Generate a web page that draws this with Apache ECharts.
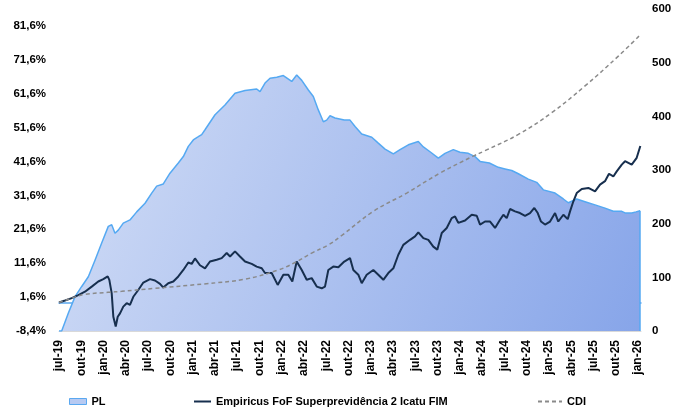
<!DOCTYPE html>
<html>
<head>
<meta charset="utf-8">
<script src="https://cdn.jsdelivr.net/npm/echarts@6/dist/echarts.min.js"></script>
<style>
html,body{margin:0;padding:0;background:#fff;}
#c{width:683px;height:412px;}
</style>
</head>
<body>
<div id="c"></div>
<script>
// x values are months elapsed since jul-2019
const xLabels = ['jul-19','out-19','jan-20','abr-20','jul-20','out-20','jan-21','abr-21','jul-21','out-21','jan-22','abr-22','jul-22','out-22','jan-23','abr-23','jul-23','out-23','jan-24','abr-24','jul-24','out-24','jan-25','abr-25','jul-25','out-25','jan-26'];
const leftTicks = [-8.4, 1.6, 11.6, 21.6, 31.6, 41.6, 51.6, 61.6, 71.6, 81.6];

const plMonths = [0,0.36,1.25,2.16,3.06,3.95,4.85,5.75,6.64,7.10,7.54,7.99,8.66,9.56,10.47,11.59,12.49,13.16,14.05,14.95,16.07,16.75,17.42,18.09,18.77,19.22,19.67,21.02,22.36,23.71,25.06,26.63,27.08,27.75,28.43,29.33,30.22,31.35,32.02,32.70,33.59,34.26,34.93,35.61,36.06,36.51,37.18,38.43,39.20,39.88,40.78,42.13,43.01,43.92,45.04,45.94,47.06,48.40,49.08,49.98,51.10,52.00,53.12,54.02,55.14,56.04,56.72,57.97,59.18,60.08,60.99,61.88,63.22,64.35,65.24,66.82,67.94,68.61,69.74,70.86,72.21,73.55,74.67,75.81,76.25,77.15,77.73,78.27];
const plValues = [0,0,33,64,83,101,132,164,195,198,182,188,201,207,222,238,257,270,274,294,313,325,344,356,362,366,375,403,421,443,448,451,446,462,471,473,476,465,477,467,449,437,412,390,393,401,397,393,393,381,367,361,350,339,330,338,347,353,343,334,322,331,338,333,331,325,316,313,305,302,299,293,283,277,263,257,246,239,246,241,235,229,223,223,220,220,222,224];

const fundMonths = [0,0.81,1.71,2.60,3.50,4.41,5.29,5.97,6.56,6.78,7.10,7.32,7.64,7.91,8.22,8.66,9.12,9.56,10.01,10.68,11.36,12.26,12.93,13.61,14.05,14.72,15.40,16.07,16.75,17.42,17.88,18.32,18.99,19.67,20.34,21.24,21.92,22.59,23.04,23.71,24.38,25.06,25.96,26.63,27.31,27.75,28.65,29.46,30.22,30.89,31.43,32.02,32.70,33.37,34.04,34.72,35.39,35.83,36.28,36.95,37.63,38.43,39.20,39.65,40.32,40.78,41.45,42.34,43.01,43.69,44.36,45.04,45.71,46.38,47.29,47.96,48.40,49.08,49.75,50.42,50.96,51.56,52.23,52.90,53.35,53.79,54.70,55.60,56.27,56.72,57.39,58.07,58.74,59.41,59.86,60.31,60.76,61.43,62.10,62.78,63.45,64.03,64.49,64.93,65.47,66.15,66.82,67.26,67.94,68.53,68.84,69.28,69.74,70.42,71.31,72.21,72.88,73.55,74.09,74.67,75.13,75.81,76.25,76.70,77.15,77.82,78.04,78.31];
const fundValues = [0,0.6,1.3,2.2,3.2,4.7,6.2,6.9,7.7,6.7,2.7,-4.2,-7.1,-4.2,-3.2,-1.2,-0.2,-0.7,1.7,3.7,5.9,6.9,6.5,5.5,4.4,5.7,6.2,7.7,9.6,11.8,11.4,13.0,11.0,10.1,12.1,12.6,13.1,14.6,13.6,15.1,13.6,12.1,11.4,10.6,10.1,8.7,8.7,5.2,8.2,8.2,6.2,12.1,9.6,6.7,7.2,4.7,4.2,4.7,9.6,10.6,10.4,12.1,13.1,9.6,8.2,5.7,8.2,9.6,8.2,6.7,8.7,10.1,14.1,17.0,18.5,19.5,20.7,19.0,18.5,16.5,15.6,20.5,22.0,24.9,25.4,23.5,24.2,25.9,25.6,23.0,23.9,23.9,22.0,24.4,25.9,24.9,27.6,26.9,26.4,25.6,26.4,27.9,26.4,23.9,23.0,23.9,26.4,23.9,25.9,24.6,26.9,29.8,32.3,33.5,33.8,32.8,34.8,35.8,38.0,37.2,38.7,40.7,41.7,41.2,40.7,42.7,43.2,46.2];

const cdiMonths = [0,1.71,3.50,6.60,8.45,12.93,19.57,25.06,29.54,31.79,34.04,36.28,38.10,42.34,46.84,51.33,55.81,57.39,61.88,66.37,70.86,75.35,78.27];
const cdiValues = [0,1.3,2.4,3.0,3.3,4.2,5.5,6.9,9.6,11.8,14.6,17.0,19.8,26.9,32.3,38.2,43.2,44.8,49.6,56.0,63.9,72.7,78.9];

const zip = (a, b) => a.map((v, i) => [v, b[i]]);
const FONT = '"Liberation Sans", Arial, sans-serif';
const txt = {fontFamily: FONT, fontWeight: 'bold', fontSize: 11, color: '#000'};
const axTxt = Object.assign({}, txt, {fontSize: 11.5});
const lastPL = plMonths.length - 1;

const chart = echarts.init(document.getElementById('c'), null, {renderer: 'canvas'});
chart.setOption({
  animation: false,
  backgroundColor: '#fff',
  grid: {left: 59, right: 42, top: 9, bottom: 81},
  xAxis: [{
    type: 'value', min: 0, max: 78.4, interval: 3,
    axisLine: {show: true, lineStyle: {color: '#5aa8f0', width: 1.5}},
    axisTick: {show: false},
    splitLine: {show: false},
    axisLabel: Object.assign({}, axTxt, {
      fontSize: 12, rotate: 90, margin: 9, showMaxLabel: false,
      formatter: function (v) {
        const k = Math.round(v / 3);
        return (Math.abs(v - k * 3) < 1e-6 && xLabels[k]) ? xLabels[k] : '';
      }
    })
  }, {
    type: 'value', position: 'top', min: 0, max: 78.4,
    axisLine: {show: true, lineStyle: {color: '#d9d9d9', width: 1}},
    axisTick: {show: false}, axisLabel: {show: false}, splitLine: {show: false}
  }],
  yAxis: [{
    type: 'value', min: -8.4, max: 86.6,
    axisLine: {show: false}, axisTick: {show: false}, splitLine: {show: false},
    axisLabel: Object.assign({}, axTxt, {
      margin: 13,
      customValues: leftTicks,
      formatter: v => v.toFixed(1).replace('.', ',') + '%'
    })
  }, {
    type: 'value', min: 0, max: 600, interval: 100, position: 'right',
    axisLine: {show: false}, axisTick: {show: false}, splitLine: {show: false},
    axisLabel: Object.assign({}, axTxt, {margin: 11})
  }],
  legend: [{
    left: 69, top: 396, padding: 0, itemWidth: 17, itemHeight: 6, itemGap: 0,
    textStyle: txt,
    data: [{name: 'PL', icon: 'rect', itemStyle: {color: '#b7caf2', borderColor: '#5aa8f0', borderWidth: 1}}]
  }, {
    left: 193, top: 396, padding: 0, itemWidth: 17, itemHeight: 7,
    textStyle: txt,
    data: [{name: 'Empiricus FoF Superprevidência 2 Icatu FIM', itemStyle: {opacity: 0}}]
  }, {
    left: 537, top: 396, padding: 0, itemWidth: 24, itemHeight: 7,
    textStyle: txt,
    data: [{name: 'CDI', itemStyle: {opacity: 0}}]
  }],
  series: [{
    name: 'PL', type: 'line', yAxisIndex: 1, data: zip(plMonths, plValues),
    symbol: 'none', z: 1,
    lineStyle: {color: '#55a9f2', width: 1.5},
    itemStyle: {color: '#55a9f2'},
    areaStyle: {
      opacity: 1,
      color: new echarts.graphic.LinearGradient(0, 0, 1, 1, [
        {offset: 0, color: '#d3def6'},
        {offset: 1, color: '#87a5e9'}
      ])
    },
    markLine: {
      silent: true, symbol: 'none', label: {show: false},
      lineStyle: {color: '#55a9f2', width: 1.5, type: 'solid'},
      data: [[{coord: [plMonths[lastPL], 0]}, {coord: [plMonths[lastPL], plValues[lastPL]]}]]
    }
  }, {
    name: 'Empiricus FoF Superprevidência 2 Icatu FIM', type: 'line', yAxisIndex: 0,
    data: zip(fundMonths, fundValues), symbol: 'none', z: 3,
    lineStyle: {color: '#172f4e', width: 2},
    itemStyle: {color: '#172f4e'}
  }, {
    name: 'CDI', type: 'line', yAxisIndex: 0, data: zip(cdiMonths, cdiValues),
    symbol: 'none', smooth: 0.4, z: 4,
    lineStyle: {color: '#8a8a8a', width: 1.5, type: [4, 3]},
    itemStyle: {color: '#8a8a8a'}
  }]
});
</script>
</body>
</html>
